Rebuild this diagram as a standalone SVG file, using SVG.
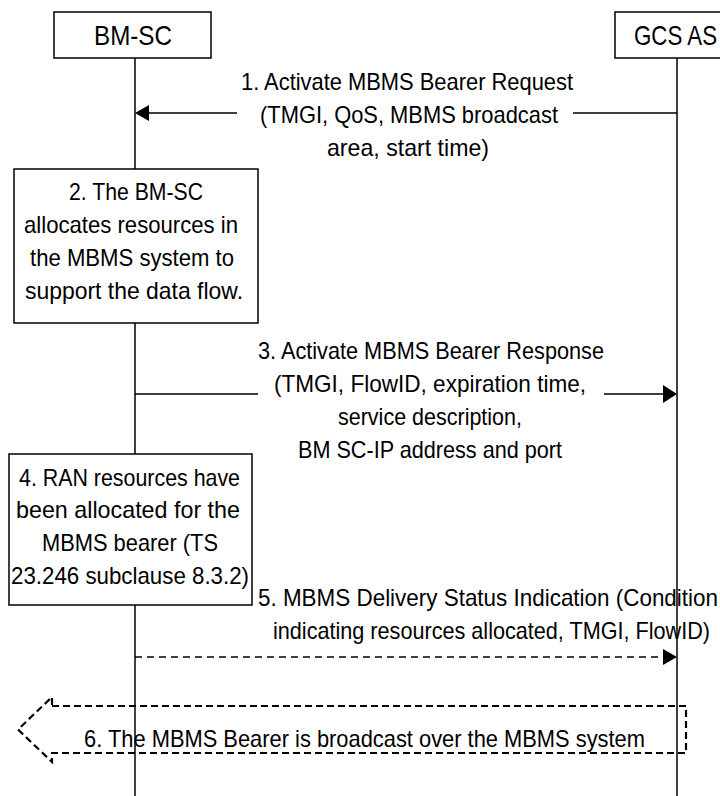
<svg xmlns="http://www.w3.org/2000/svg" width="720" height="796" viewBox="0 0 720 796">
<style>
text{font-family:"Liberation Sans",Arial,sans-serif;font-size:24px;fill:#000}
.t{font-size:28px}
.box{fill:#fff;stroke:#000;stroke-width:1.5}
.life{stroke:#000;stroke-width:1.5;fill:none}
.msg{stroke:#000;stroke-width:1.5;fill:none}
.dash{stroke-dasharray:7 5}
.head{fill:#000;stroke:none}
</style>
<rect width="720" height="796" fill="#fff"/>
<g id="lifelines">
<line class="life" x1="135" y1="58" x2="135" y2="796"/>
<line class="life" x1="677" y1="58" x2="677" y2="796"/>
</g>
<g id="bmsc">
<rect class="box" x="54" y="12" width="157" height="46"/>
<text class="t" x="94" y="45" textLength="78" lengthAdjust="spacingAndGlyphs">BM-SC</text>
</g>
<g id="gcsas">
<rect class="box" x="615" y="12" width="120" height="46"/>
<text class="t" x="634" y="45" textLength="83" lengthAdjust="spacingAndGlyphs">GCS AS</text>
</g>
<g id="connectors">
<g id="msg1">
<line class="msg" x1="677" y1="113" x2="573" y2="113"/>
<line class="msg" x1="237" y1="113" x2="148" y2="113"/>
<polygon class="head" points="135,113 149,105 149,121"/>
</g>
<g id="msg3">
<line class="msg" x1="135" y1="394" x2="258" y2="394"/>
<line class="msg" x1="604" y1="394" x2="664" y2="394"/>
<polygon class="head" points="677,394 663,385 663,403"/>
</g>
<g id="msg5">
<line class="msg dash" x1="135" y1="657" x2="664" y2="657"/>
<polygon class="head" points="677,657 663,649 663,665"/>
</g>
</g>
<g id="label1">
<text x="241" y="90" textLength="332" lengthAdjust="spacingAndGlyphs">1. Activate MBMS Bearer Request</text>
<text x="260" y="123" textLength="298" lengthAdjust="spacingAndGlyphs">(TMGI, QoS, MBMS broadcast</text>
<text x="327" y="156" textLength="162" lengthAdjust="spacingAndGlyphs">area, start time)</text>
</g>
<g id="step2">
<rect class="box" x="14" y="169" width="244" height="154"/>
<text x="69" y="200" textLength="134" lengthAdjust="spacingAndGlyphs">2. The BM-SC</text>
<text x="24" y="233" textLength="214" lengthAdjust="spacingAndGlyphs">allocates resources in</text>
<text x="30" y="266" textLength="204" lengthAdjust="spacingAndGlyphs">the MBMS system to</text>
<text x="25" y="299" textLength="218" lengthAdjust="spacingAndGlyphs">support the data flow.</text>
</g>
<g id="label3">
<text x="258" y="359" textLength="346" lengthAdjust="spacingAndGlyphs">3. Activate MBMS Bearer Response</text>
<text x="274" y="392" textLength="312" lengthAdjust="spacingAndGlyphs">(TMGI, FlowID, expiration time,</text>
<text x="338" y="425" textLength="184" lengthAdjust="spacingAndGlyphs">service description,</text>
<text x="298" y="458" textLength="264" lengthAdjust="spacingAndGlyphs">BM SC-IP address and port</text>
</g>
<g id="step4">
<rect class="box" x="9" y="454" width="243" height="151"/>
<text x="19" y="486" textLength="221" lengthAdjust="spacingAndGlyphs">4. RAN resources have</text>
<text x="16" y="518" textLength="224" lengthAdjust="spacingAndGlyphs">been allocated for the</text>
<text x="42" y="551" textLength="176" lengthAdjust="spacingAndGlyphs">MBMS bearer (TS</text>
<text x="11" y="584" textLength="238" lengthAdjust="spacingAndGlyphs">23.246 subclause 8.3.2)</text>
</g>
<g id="label5">
<text x="258" y="606" textLength="460" lengthAdjust="spacingAndGlyphs">5. MBMS Delivery Status Indication (Condition</text>
<text x="273" y="639" textLength="437" lengthAdjust="spacingAndGlyphs">indicating resources allocated, TMGI, FlowID)</text>
</g>
<g id="step6">
<path d="M52,706 L686,706 L686,753 L52,753 L52,762 L18,729.5 L52,697 Z" fill="none" stroke="#000" stroke-width="2.2" stroke-dasharray="7 4"/>
<text x="84" y="747" textLength="561" lengthAdjust="spacingAndGlyphs">6. The MBMS Bearer is broadcast over the MBMS system</text>
</g>
</svg>
